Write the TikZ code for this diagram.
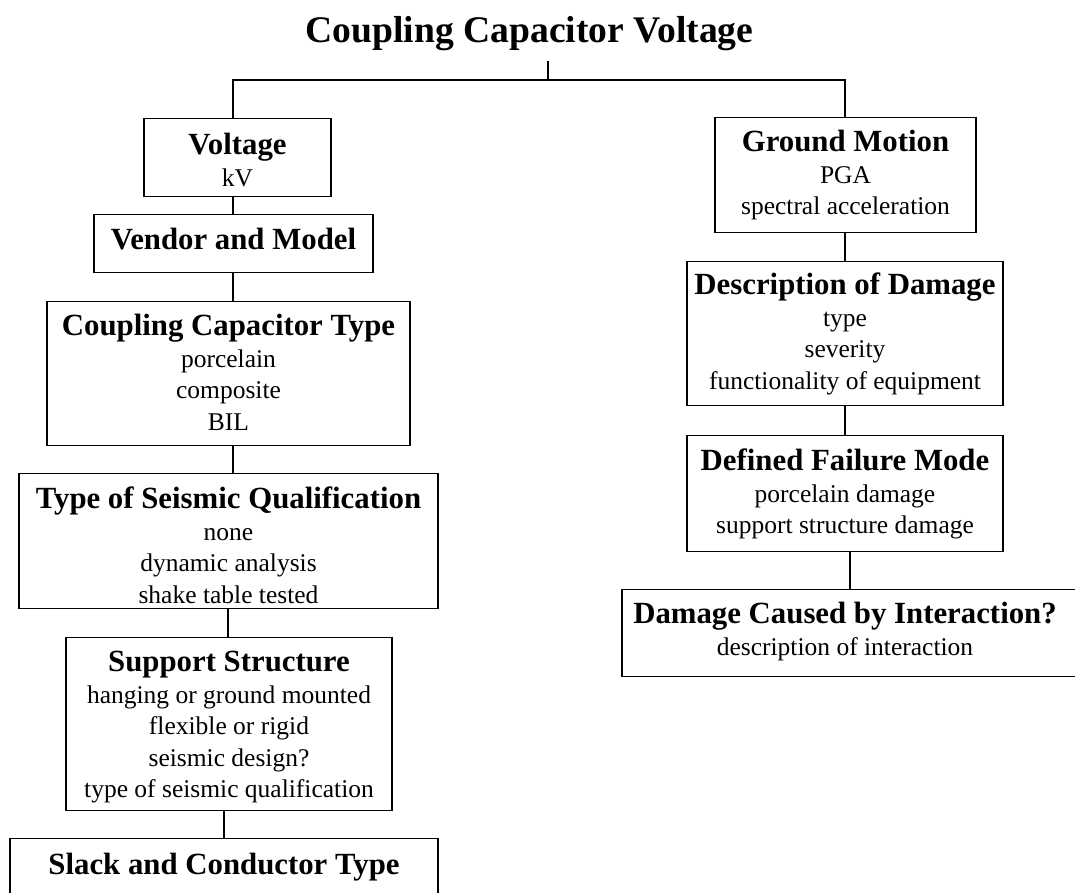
\documentclass[tikz,border=0pt]{standalone}
\usepackage{fontspec}
\setmainfont{Liberation Serif}
\newcommand{\hd}[1]{{\fontsize{30.8}{31.5}\selectfont\bfseries #1}}
\newcommand{\boxtext}[1]{\begin{tabular}[t]{@{}c@{}}#1\end{tabular}}
\newcommand{\boxtextshift}[2]{\begin{tabular}[t]{@{}c@{\hspace{#1}}}#2\end{tabular}}
\tikzset{
  box/.style={draw, line width=1.1pt, inner xsep=0pt, inner ysep=0pt, anchor=north,
    font=\fontsize{25.5}{31.5}\selectfont},
  link/.style={line width=1.1pt},
}
\begin{document}
\begin{tikzpicture}[x=1pt,y=-1pt]
\clip (0,0) rectangle (1075,893);
\fill[white] (0,0) rectangle (1075,893);

\node[anchor=base, inner sep=0pt, font=\fontsize{37.6}{40}\selectfont\bfseries] (title) at (529.5,42.7) {Coupling Capacitor Voltage};

% left column
\node[box, minimum width=187pt, text height=36pt, text depth=42pt] (volt) at (237.5,118)
  {\boxtext{\hd{Voltage}\\ kV}};
\node[box, minimum width=279pt, text height=35pt, text depth=23pt] (vend) at (233.5,214)
  {\boxtext{\hd{Vendor and Model}}};
\node[box, minimum width=363pt, text height=34pt, text depth=110pt] (cct) at (228.5,301)
  {\boxtext{\hd{Coupling Capacitor Type}\\ porcelain\\ composite\\ BIL}};
\node[box, minimum width=419pt, text height=35pt, text depth=100pt] (tsq) at (228.5,473)
  {\boxtext{\hd{Type of Seismic Qualification}\\ none\\ dynamic analysis\\ shake table tested}};
\node[box, minimum width=326pt, text height=34pt, text depth=139pt] (ss) at (229,637)
  {\boxtext{\hd{Support Structure}\\ hanging or ground mounted\\ flexible or rigid\\ seismic design?\\ type of seismic qualification}};
\node[box, minimum width=428pt, text height=36pt, text depth=46pt] (slack) at (224,838)
  {\boxtext{\hd{Slack and Conductor Type}}};

% right column
\node[box, minimum width=261pt, text height=34pt, text depth=81pt] (gm) at (845.5,117)
  {\boxtext{\hd{Ground Motion}\\ PGA\\ spectral acceleration}};
\node[box, minimum width=316pt, text height=33pt, text depth=111pt] (dod) at (845,261)
  {\boxtext{\hd{Description of Damage}\\ type\\ severity\\ functionality of equipment}};
\node[box, minimum width=316pt, text height=35pt, text depth=81pt] (dfm) at (845,435)
  {\boxtext{\hd{Defined Failure Mode}\\ porcelain damage\\ support structure damage}};
\node[box, minimum width=463pt, text height=34pt, text depth=53pt] (dci) at (853.5,589)
  {\boxtextshift{17pt}{\hd{Damage Caused by Interaction?}\\ description of interaction}};

% connector columns
\coordinate (stemtop) at (548,61);
\coordinate (bus) at (548,80);
\coordinate (cA) at (233,0);
\coordinate (cB) at (228,0);
\coordinate (cC) at (224,0);
\coordinate (cR) at (845,0);
\coordinate (cS) at (850,0);

\draw[link] (stemtop) -- (bus);
\draw[link] (volt.north -| cA) -- (cA |- bus) -- (cR |- bus) -- (gm.north -| cR);
\draw[link] (volt.south -| cA) -- (vend.north -| cA);
\draw[link] (vend.south -| cA) -- (cct.north -| cA);
\draw[link] (cct.south -| cA) -- (tsq.north -| cA);
\draw[link] (tsq.south -| cB) -- (ss.north -| cB);
\draw[link] (ss.south -| cC) -- (slack.north -| cC);
\draw[link] (gm.south -| cR) -- (dod.north -| cR);
\draw[link] (dod.south -| cR) -- (dfm.north -| cR);
\draw[link] (dfm.south -| cS) -- (dci.north -| cS);
\end{tikzpicture}
\end{document}
